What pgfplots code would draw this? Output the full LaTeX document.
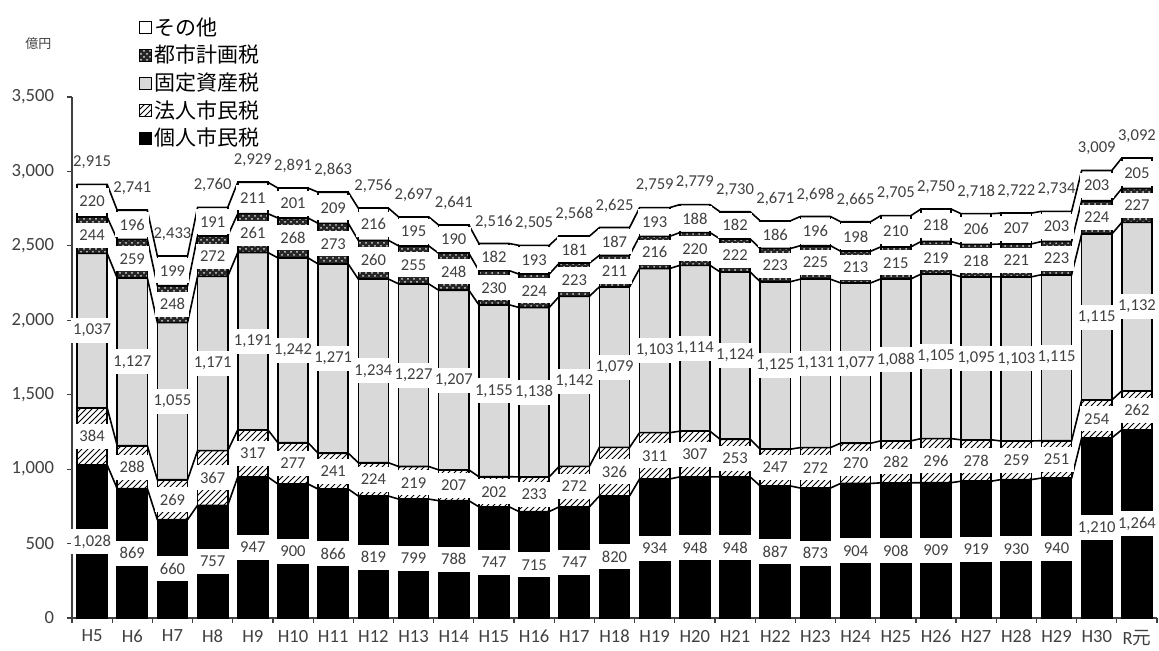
\documentclass[border=0pt]{standalone}
\usepackage{fontspec}
\setmainfont{Carlito}
\newfontfamily\jp{Noto Sans CJK JP}
\usepackage{pgfplots}
\pgfplotsset{compat=1.18}
\usepackage{pgfplotstable}
\usetikzlibrary{patterns}
\pgfplotsset{/pgf/number format/assume math mode=true}
\definecolor{lgray}{HTML}{D9D9D9}
\definecolor{txt}{HTML}{404040}

\pgfplotstableread{
p h k t o tot
1028 384 1037 244 220 2915
869 288 1127 259 196 2741
660 269 1055 248 199 2433
757 367 1171 272 191 2760
947 317 1191 261 211 2929
900 277 1242 268 201 2891
866 241 1271 273 209 2863
819 224 1234 260 216 2756
799 219 1227 255 195 2697
788 207 1207 248 190 2641
747 202 1155 230 182 2516
715 233 1138 224 193 2505
747 272 1142 223 181 2568
820 326 1079 211 187 2625
934 311 1103 216 193 2759
948 307 1114 220 188 2779
948 253 1124 222 182 2730
887 247 1125 223 186 2671
873 272 1131 225 196 2698
904 270 1077 213 198 2665
908 282 1088 215 210 2705
909 296 1105 219 218 2750
919 278 1095 218 206 2718
930 259 1103 221 207 2722
940 251 1115 223 203 2734
1210 254 1115 224 203 3009
1264 262 1132 227 205 3092
}\data

% series lines (corner to corner, from the data)
\def\LA{}\def\LB{}\def\LC{}\def\LD{}\def\LE{}
\pgfplotsforeachungrouped \i in {0,...,26}{%
  \pgfplotstablegetelem{\i}{p}\of\data \let\vp\pgfplotsretval
  \pgfplotstablegetelem{\i}{h}\of\data \let\vh\pgfplotsretval
  \pgfplotstablegetelem{\i}{k}\of\data \let\vk\pgfplotsretval
  \pgfplotstablegetelem{\i}{t}\of\data \let\vt\pgfplotsretval
  \pgfplotstablegetelem{\i}{o}\of\data \let\vo\pgfplotsretval
  \pgfmathsetmacro\ca{\vp}%
  \pgfmathsetmacro\cb{\ca+\vh}%
  \pgfmathsetmacro\cc{\cb+\vk}%
  \pgfmathsetmacro\cd{\cc+\vt}%
  \pgfmathsetmacro\ce{\cd+\vo}%
  \pgfmathsetmacro\xl{\i-0.375}%
  \pgfmathsetmacro\xr{\i+0.375}%
  \xdef\LA{\LA(\xl,\ca)(\xr,\ca)}%
  \xdef\LB{\LB(\xl,\cb)(\xr,\cb)}%
  \xdef\LC{\LC(\xl,\cc)(\xr,\cc)}%
  \xdef\LD{\LD(\xl,\cd)(\xr,\cd)}%
  \xdef\LE{\LE(\xl,\ce)(\xr,\ce)}%
}

\pgfplotsset{
  mybar/.style={ybar, bar width=0.75, bar shift=0pt, draw=black, line width=0.8pt,
    legend image code/.code={\draw[##1, line width=0.5pt] (0pt,-3pt) rectangle (6pt,3pt);}},
  lbl/.style={draw=none, forget plot, nodes near coords, point meta=explicit,
    every node near coord/.style={anchor=center, fill=white, inner xsep=1.2pt, inner ysep=0pt,
      minimum width=17pt, minimum height=12.5pt, text=txt,
      font=\fontsize{8.3}{9}\selectfont, /pgf/number format/1000 sep={,}}},
  sline/.style={black, line width=0.8pt, forget plot},
}

\begin{document}
\begin{tikzpicture}
\begin{axis}[
  name=ax,
  scale only axis, width=542.5pt, height=260.5pt,
  xmin=-0.5, xmax=26.5, ymin=0, ymax=3500,
  axis x line*=bottom, axis y line*=left,
  axis line style={black!75, line width=0.6pt},
  tick align=outside, major tick length=2.5pt,
  tick style={black!75, line width=0.6pt},
  xtick={-0.5,0.5,...,26.5},
  x tick label as interval,
  xticklabels={H5,H6,H7,H8,H9,H10,H11,H12,H13,H14,H15,H16,H17,H18,H19,H20,H21,H22,H23,H24,H25,H26,H27,H28,H29,H30,R{\jp 元}},
  ytick={0,500,...,3500},
  yticklabel style={/pgf/number format/1000 sep={,}, xshift=-3pt},
  tick label style={font=\fontsize{9.3}{10}\selectfont, text=txt},
  clip=false,
  legend style={at={(0.056,1.165)}, anchor=north west, draw=none, fill=none,
    font=\jp\fontsize{10.5}{12}\selectfont, row sep=1.5pt,
    nodes={inner sep=1pt}},
  legend cell align=left,
]
\addplot[mybar, fill=white] table[x expr=\coordindex, y expr=\thisrow{p}+\thisrow{h}+\thisrow{k}+\thisrow{t}+\thisrow{o}]{\data};
\addlegendentry{その他}
\addplot[mybar, fill=black!85, postaction={pattern=crosshatch dots, pattern color=white!85!black}] table[x expr=\coordindex, y expr=\thisrow{p}+\thisrow{h}+\thisrow{k}+\thisrow{t}]{\data};
\addlegendentry{都市計画税}
\addplot[mybar, fill=lgray] table[x expr=\coordindex, y expr=\thisrow{p}+\thisrow{h}+\thisrow{k}]{\data};
\addlegendentry{固定資産税}
\addplot[mybar, fill=white, postaction={pattern=north east lines}] table[x expr=\coordindex, y expr=\thisrow{p}+\thisrow{h}]{\data};
\addlegendentry{法人市民税}
\addplot[mybar, fill=black] table[x expr=\coordindex, y expr=\thisrow{p}]{\data};
\addlegendentry{個人市民税}

\edef\tmp{\noexpand\addplot[sline] coordinates {\LA};}\tmp
\edef\tmp{\noexpand\addplot[sline] coordinates {\LB};}\tmp
\edef\tmp{\noexpand\addplot[sline] coordinates {\LC};}\tmp
\edef\tmp{\noexpand\addplot[sline] coordinates {\LD};}\tmp
\edef\tmp{\noexpand\addplot[sline] coordinates {\LE};}\tmp

\addplot[lbl] table[x expr=\coordindex, y expr=\thisrow{p}/2, meta=p]{\data};
\addplot[lbl] table[x expr=\coordindex, y expr=\thisrow{p}+\thisrow{h}/2, meta=h]{\data};
\addplot[lbl] table[x expr=\coordindex, y expr=\thisrow{p}+\thisrow{h}+\thisrow{k}/2, meta=k]{\data};
\addplot[lbl] table[x expr=\coordindex, y expr=\thisrow{p}+\thisrow{h}+\thisrow{k}+\thisrow{t}/2, meta=t]{\data};
\addplot[lbl] table[x expr=\coordindex, y expr=\thisrow{p}+\thisrow{h}+\thisrow{k}+\thisrow{t}+\thisrow{o}/2, meta=o]{\data};
\addplot[draw=none, forget plot, nodes near coords, point meta=explicit,
  every node near coord/.style={anchor=center, yshift=11pt, text=txt, inner sep=0pt,
    font=\fontsize{8.3}{9}\selectfont, /pgf/number format/1000 sep={,}}]
  table[x expr=\coordindex, y expr=\thisrow{p}+\thisrow{h}+\thisrow{k}+\thisrow{t}+\thisrow{o}, meta=tot]{\data};

\node[font=\jp\fontsize{6.5}{7}\selectfont, text=txt] at (rel axis cs:-0.031,1.102) {億円};
\end{axis}
\pgfresetboundingbox
\path[use as bounding box] ([shift={(-36pt,-16.5pt)}]ax.south west) rectangle ++(579.5pt,325.5pt);
\end{tikzpicture}
\end{document}
